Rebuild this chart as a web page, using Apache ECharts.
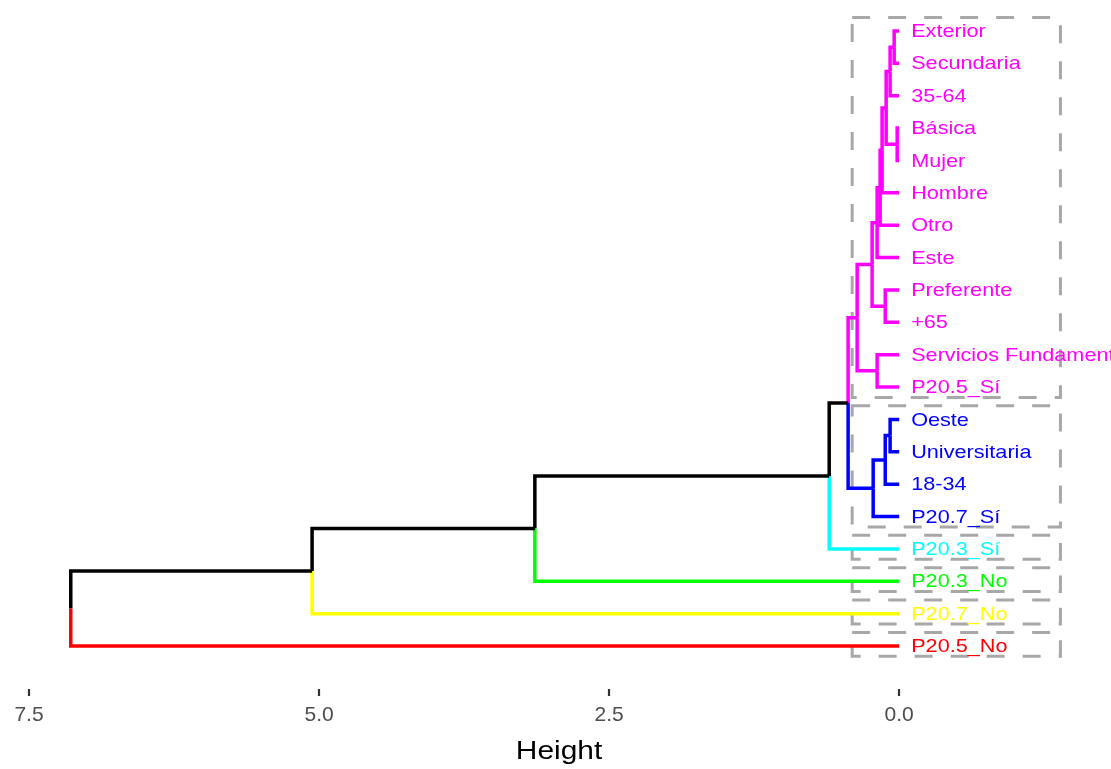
<!DOCTYPE html>
<html>
<head>
<meta charset="utf-8">
<script src="https://cdn.jsdelivr.net/npm/echarts@6/dist/echarts.min.js"></script>
<style>
html,body{margin:0;padding:0;background:#fff;}
#chart{width:1111px;height:769px;}
</style>
</head>
<body>
<div id="chart"></div>
<script>
// Leaves, top to bottom
const leaves = ['Exterior','Secundaria','35-64','Básica','Mujer','Hombre','Otro','Este','Preferente','+65','Servicios Fundamentales','P20.5_Sí','Oeste','Universitaria','18-34','P20.7_Sí','P20.3_Sí','P20.3_No','P20.7_No','P20.5_No'];
// cluster of each leaf
const leafCluster = [0,0,0,0,0,0,0,0,0,0,0,0,1,1,1,1,2,3,4,5];
const clusterColors = ['#FF00FF','#0000FF','#00FFFF','#00FF00','#FFFF00','#FF0000'];
// merges (hclust style): negative = leaf (-(index+1)), positive = earlier merge (1-based)
const mergeA = [-1,-4, 1, 3, 4, 5, 6,-9, 7,-11, 9,-13,12,13,11,15,16,17,18];
const mergeB = [-2,-5,-3, 2,-6,-7,-8,-10, 8,-12,10,-14,-15,-16,14,-17,-18,-19,-20];
const mergeHeight = [0.043,0.017,0.078,0.112,0.147,0.164,0.19,0.12,0.233,0.19,0.362,0.078,0.12,0.224,0.44,0.603,3.14,5.06,7.14];
const tickValues = [7.5,5.0,2.5,0.0];

// derived structure
const nodeY = [], nodeH = [], nodeCol = [];
function info(ref){
  if(ref<0){ const i=-ref-1; return {y:i, h:0, c:clusterColors[leafCluster[i]], cl:leafCluster[i]}; }
  return {y:nodeY[ref-1], h:nodeH[ref-1], c:nodeCol[ref-1].c, cl:nodeCol[ref-1].cl};
}
const segments = [];
for(let k=0;k<mergeA.length;k++){
  const a=info(mergeA[k]), b=info(mergeB[k]);
  const y=(a.y+b.y)/2, h=mergeHeight[k];
  nodeY.push(y); nodeH.push(h);
  if(a.cl===b.cl && a.cl>=0) nodeCol.push({c:a.c, cl:a.cl}); else nodeCol.push({c:'#000000', cl:-1});
  segments.push([h,y,a.h,a.y,a.c]);
  segments.push([h,y,b.h,b.y,b.c]);
}
// cluster rects extents (leaf index range)
const rects = clusterColors.map((c,ci)=>{
  const idx = leafCluster.map((v,i)=>v===ci?i:-1).filter(v=>v>=0);
  return [Math.min(...idx), Math.max(...idx)];
});

const chart = echarts.init(document.getElementById('chart'));
const FONT = '"Liberation Sans", Arial, sans-serif';
const SX = 1.17;
chart.setOption({
  animation:false,
  grid:{left:29, right:3, top:31, height:615, containLabel:false},
  xAxis:{
    type:'value', inverse:true, min:-1.8, max:7.5, offset:43, position:'bottom',
    axisLine:{show:false, onZero:false}, splitLine:{show:false},
    axisTick:{show:true, length:7, lineStyle:{color:'#333333', width:2.2}, customValues:tickValues},
    axisLabel:{customValues:tickValues, formatter:v=>Number(v).toFixed(1), color:'#4D4D4D', fontSize:21, fontFamily:FONT, margin:16}
  },
  yAxis:{type:'value', min:0, max:19, inverse:true, show:false},
  graphic:[{type:'text', x:559, y:752, scaleX:1.15, style:{text:'Height', fontSize:26, fontFamily:FONT, fill:'#000', align:'center', verticalAlign:'middle'}}],
  series:[
    {
      type:'custom', coordinateSystem:'cartesian2d', z:1, clip:false,
      data: rects.map((r,i)=>[0,r[0],r[1]]),
      renderItem:(params, api)=>{
        const r = rects[params.dataIndex];
        const p1 = api.coord([0.405, r[0]-0.42]);
        const p2 = api.coord([-1.39, r[1]+0.32]);
        return {type:'rect', shape:{x:p1[0], y:p1[1], width:p2[0]-p1[0], height:p2[1]-p1[1]},
          style:{fill:null, stroke:'#A8A8A8', lineWidth:3, lineDash:[18,18]}};
      }
    },
    {
      type:'custom', coordinateSystem:'cartesian2d', z:2, clip:false,
      data: segments.map(s=>[s[0],s[1]]),
      renderItem:(params, api)=>{
        const s = segments[params.dataIndex];
        const p1 = api.coord([s[0], s[1]]);
        const p2 = api.coord([s[0], s[3]]);
        const p3 = api.coord([s[2], s[3]]);
        return {type:'polyline', shape:{points:[p1,p2,p3]}, style:{stroke:s[4], lineWidth:3.5, fill:null}};
      }
    },
    {
      type:'custom', coordinateSystem:'cartesian2d', z:3, clip:false,
      data: leaves.map((n,i)=>[0,i]),
      renderItem:(params, api)=>{
        const i = params.dataIndex;
        const p = api.coord([0, i]);
        return {type:'text', x:p[0]+12, y:p[1]+1, scaleX:SX,
          style:{text:leaves[i], fill:clusterColors[leafCluster[i]], fontSize:18.5, fontFamily:FONT, align:'left', verticalAlign:'middle'}};
      }
    }
  ]
});
</script>
</body>
</html>
